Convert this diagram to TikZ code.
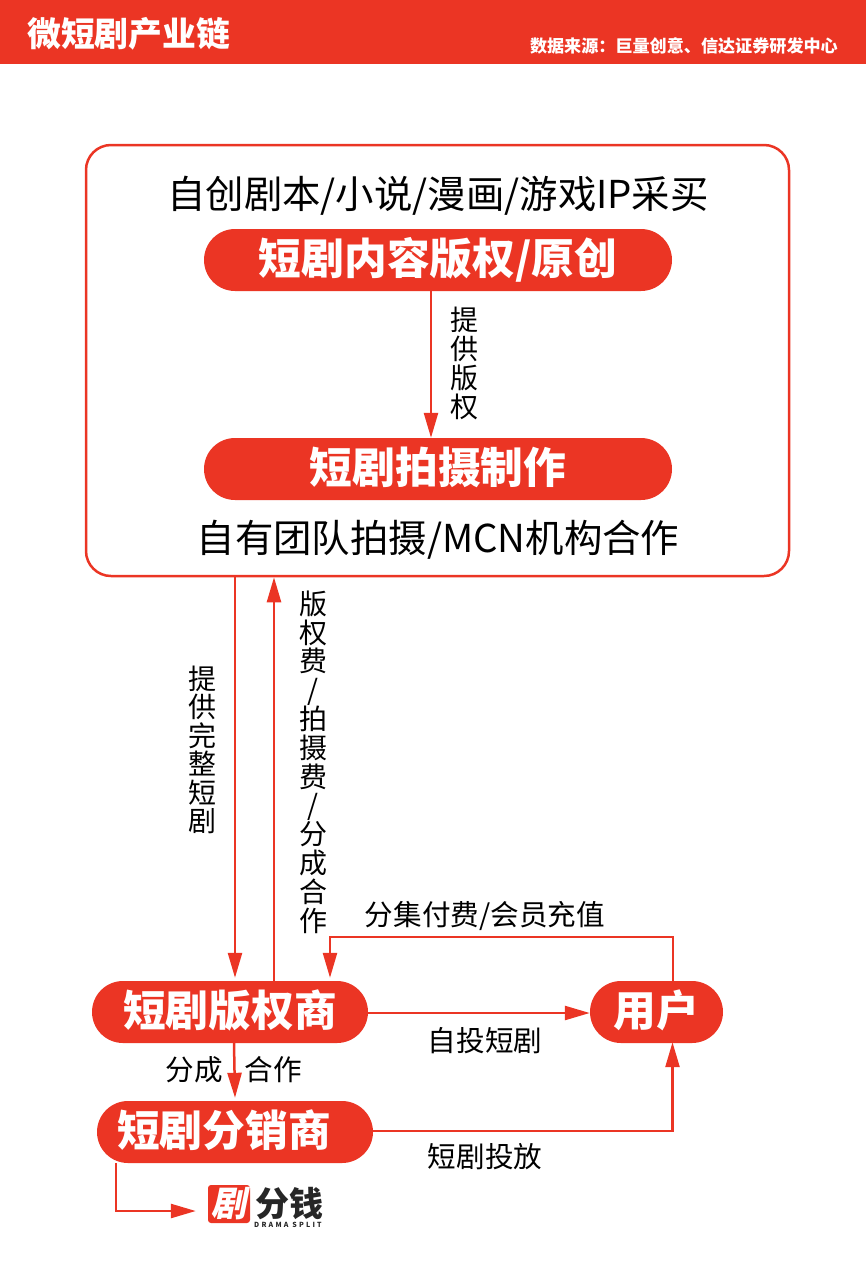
\documentclass[tikz,border=0pt]{standalone}
\usepackage{fontspec}
\setmainfont{Noto Sans CJK SC}
\newfontfamily\logofont[FakeSlant=0.2]{Noto Sans CJK SC Black}
\newfontfamily\logoplain{Noto Sans CJK SC Black}
\usetikzlibrary{arrows.meta,positioning}
\definecolor{brandred}{RGB}{235,53,36}

\tikzstyle{pill} = [rectangle, rounded corners=31pt, minimum height=62pt, text centered, inner sep=0pt, text height=35pt, text depth=6pt, fill=brandred, text=white, font=\fontsize{42.7}{42.7}\selectfont\bfseries]
\tikzstyle{frame} = [rectangle, rounded corners=25pt, minimum width=703pt, minimum height=431pt, draw=brandred, line width=2.5pt, fill=white]
\tikzstyle{note} = [inner sep=0pt, text centered, font=\fontsize{38.4}{38.4}\selectfont]
\tikzstyle{lbl} = [inner sep=0pt, text centered, font=\fontsize{28.6}{28.6}\selectfont]
\tikzstyle{vlbl} = [inner sep=0pt, text width=30pt, align=center, font=\fontsize{28}{29}\selectfont]
\tikzstyle{flow} = [line width=2.5pt, brandred, -{Stealth[length=25pt,width=14pt,inset=0pt]}]

\begin{document}
\begin{tikzpicture}[x=1pt, y=-1pt, node distance=209pt]
      \useasboundingbox (0,0) rectangle (866,1280);
      \fill [brandred] (0,0) rectangle (866,64);
      \node (title) [anchor=west, inner sep=0pt, text=white, font=\fontsize{33.8}{33.8}\selectfont\bfseries] at (27,34) {微短剧产业链};
      \node (source) [anchor=east, inner sep=0pt, text=white, font=\fontsize{17.1}{17.1}\selectfont\bfseries] at (838,46) {数据来源：巨量创意、信达证券研发中心};

      \node (box) [frame] at (437.5,360.5) {};
      \node (script) [note] at (438,196) {自创剧本/小说/漫画/游戏IP采买};
      \node (copy) [pill, minimum width=468pt] at (438,260) {短剧内容版权/原创};
      \node (make) [pill, minimum width=468pt, below of=copy] {短剧拍摄制作};
      \node (team) [note] at (438,540) {自有团队拍摄/MCN机构合作};

      \node (owner) [pill, minimum width=276pt] at (230,1012) {短剧版权商};
      \node (user) [pill, minimum width=133pt] at (656.5,1012) {用户};
      \node (dist) [pill, minimum width=276pt] at (235,1132) {短剧分销商\hspace*{22pt}};

      \node (lcopy) [vlbl] at (464,363) {提\\供\\版\\权};
      \node (lfull) [vlbl, font=\fontsize{28}{28.5}\selectfont] at (202,750) {提\\供\\完\\整\\短\\剧};
      \node (lfee) [vlbl, font=\fontsize{28}{28.8}\selectfont] at (313,762) {版\\权\\费\\/\\拍\\摄\\费\\/\\分\\成\\合\\作};
      \node (lpay) [lbl] at (485,916) {分集付费/会员充值};
      \node (lself) [lbl] at (485,1041) {自投短剧};
      \node (lput) [lbl] at (485,1157) {短剧投放};
      \node (lshare) [lbl] at (194,1070) {分成};
      \node (lcoop) [lbl] at (273,1070) {合作};

      % logo
      \node (logomark) [rectangle, rounded corners=3pt, minimum width=42pt, minimum height=38pt, inner sep=0pt, fill=brandred, text=white, font=\fontsize{35}{35}\logofont] at (229,1204) {剧};
      \node (logoname) [inner sep=0pt, anchor=west, text=black!85, font=\fontsize{34}{34}\logoplain] at (255,1204) {分钱};
      \node (logosub) [inner sep=0pt, anchor=west, text=black!85, font=\fontsize{7}{7}\selectfont\bfseries\addfontfeature{LetterSpace=32}] at (254,1225) {DRAMA SPLIT};

      \draw [flow] (copy.south -| 431,0) -- (make.north -| 431,0);
      \draw [flow] ([xshift=-202.5pt]box.south) -- ([xshift=5pt,yshift=3pt]owner.north);
      \draw [flow] ([xshift=44pt]owner.north) -- ([xshift=-163.5pt]box.south);
      \draw [flow] ([xshift=16.5pt]user.north) |- (330,937) -- ([xshift=100pt,yshift=3pt]owner.north);
      \draw [flow] ([yshift=-1pt]owner.east) -- ([yshift=-1pt]user.west);
      \draw [flow] ([xshift=4pt]owner.south) -- ([yshift=3pt]dist.north);
      \draw [flow] ([yshift=1pt]dist.east) -| ([xshift=16pt,yshift=1pt]user.south);
      \draw [flow] ([xshift=-119pt]dist.south) |- ([xshift=-12pt,yshift=-7pt]logomark.west);
    \end{tikzpicture}
\end{document}
